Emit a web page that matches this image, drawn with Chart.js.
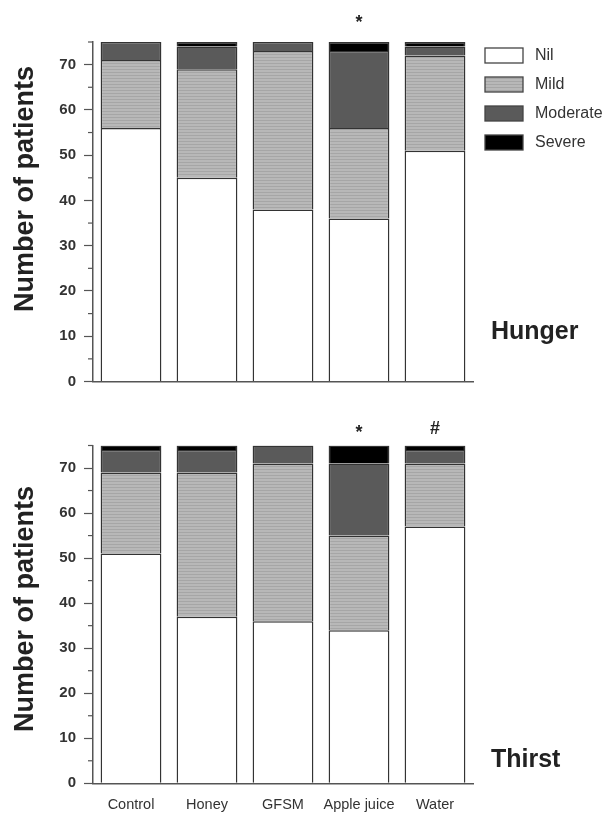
<!DOCTYPE html>
<html>
<head>
<meta charset="utf-8">
<script src="https://cdn.jsdelivr.net/npm/chart.js@4.4.1/dist/chart.umd.min.js"></script>
<style>
  body { margin: 0; background: #fff; }
  #top { position: absolute; left: 0; top: 0; width: 608px; height: 400px; }
  #bottom { position: absolute; left: 0; top: 400px; width: 608px; height: 416px; }
</style>
</head>
<body>
<div id="top"><canvas id="hunger"></canvas></div>
<div id="bottom"><canvas id="thirst"></canvas></div>
<script>
const groups = ["Control", "Honey", "GFSM", "Apple juice", "Water"];
const severities = ["Nil", "Mild", "Moderate", "Severe"];

const hungerNil      = [56, 45, 38, 36, 51];
const hungerMild     = [15, 24, 35, 20, 21];
const hungerModerate = [4, 5, 2, 17, 2];
const hungerSevere   = [0, 1, 0, 2, 1];
const hungerMarks    = ["", "", "", "*", ""];

const thirstNil      = [51, 37, 36, 34, 57];
const thirstMild     = [18, 32, 35, 21, 14];
const thirstModerate = [5, 5, 4, 16, 3];
const thirstSevere   = [1, 1, 0, 4, 1];
const thirstMarks    = ["", "", "", "*", "#"];

const yMax = 75;
const FONT = "'Liberation Sans', Arial, sans-serif";

// mild segments have a faint horizontal hatch
function stripes() {
    const c = document.createElement("canvas");
    c.width = 4;
    c.height = 3;
    const g = c.getContext("2d");
    g.fillStyle = "#b8b8b8";
    g.fillRect(0, 0, 4, 3);
    g.fillStyle = "#a6a6a6";
    g.fillRect(0, 0, 4, 1);
    return g.createPattern(c, "repeat");
}

const fills = ["#ffffff", stripes(), "#5a5a5a", "#000000"];

const extras = {
    id: "extras",
    afterDraw(chart, args, opts) {
        const { ctx, chartArea, scales } = chart;
        const x = scales.x, y = scales.y;
        ctx.save();

        // minor ticks every 5
        ctx.strokeStyle = "#555";
        ctx.lineWidth = 1.2;
        y.ticks.forEach(t => {
            if (t.value % 10 === 0) return;
            const py = y.getPixelForValue(t.value);
            ctx.beginPath();
            ctx.moveTo(chartArea.left - 5, py);
            ctx.lineTo(chartArea.left, py);
            ctx.stroke();
        });

        // y title
        ctx.fillStyle = "#222";
        ctx.font = "bold 27px " + FONT;
        ctx.textAlign = "center";
        ctx.textBaseline = "middle";
        ctx.save();
        ctx.translate(26, opts.titleY);
        ctx.rotate(-Math.PI / 2);
        ctx.fillText("Number of patients", 0, 0);
        ctx.restore();

        // significance marks
        const size = 18;
        ctx.font = "bold " + size + "px " + FONT;
        ctx.textBaseline = "alphabetic";
        opts.marks.forEach((m, i) => {
            if (!m) return;
            const cy = chartArea.top - opts.markGap;
            const shift = m === "*" ? 0.575 : 0.345;
            ctx.fillText(m, x.getPixelForValue(i), cy + shift * size);
        });

        // panel label
        ctx.font = "bold 25px " + FONT;
        ctx.textAlign = "left";
        ctx.fillText(opts.label, chartArea.right + 18, opts.labelY);

        // legend
        if (opts.legend) {
            ctx.font = "16px " + FONT;
            ctx.textBaseline = "middle";
            chart.data.datasets.forEach((ds, i) => {
                const bx = chartArea.right + 12;
                const by = chartArea.top + 6 + i * 29;
                ctx.fillStyle = ds.backgroundColor;
                ctx.fillRect(bx, by, 38, 15);
                ctx.strokeStyle = "#444";
                ctx.lineWidth = 1.3;
                ctx.strokeRect(bx, by, 38, 15);
                ctx.fillStyle = "#333";
                ctx.fillText(ds.label, bx + 50, by + 8);
            });
        }
        ctx.restore();
    }
};

function makeChart(id, series, opts) {
    const datasets = series.map((data, i) => ({
        label: severities[i],
        data,
        backgroundColor: fills[i],
        borderColor: "#333",
        borderWidth: 1.5,
        categoryPercentage: 0.8,
        barPercentage: 1
    }));

    return new Chart(document.getElementById(id), {
        type: "bar",
        data: { labels: groups, datasets },
        plugins: [extras],
        options: {
            responsive: true,
            maintainAspectRatio: false,
            animation: false,
            layout: { padding: { top: opts.top, right: 135, left: 0, bottom: 0 } },
            plugins: {
                legend: { display: false },
                tooltip: { enabled: false },
                extras: opts
            },
            scales: {
                x: {
                    stacked: true,
                    grid: { display: false, drawTicks: false },
                    border: { display: true, color: "#555", width: 1.5 },
                    ticks: {
                        display: opts.showX,
                        color: "#333",
                        padding: 13,
                        maxRotation: 0,
                        minRotation: 0,
                        autoSkip: false,
                        font: { family: FONT, size: 14.5 }
                    },
                    afterFit: s => { s.height = opts.xHeight; }
                },
                y: {
                    stacked: true,
                    min: 0,
                    max: yMax,
                    afterFit: s => { s.width = 93; },
                    grid: {
                        drawOnChartArea: false,
                        tickLength: 9,
                        tickWidth: 1.2,
                        tickColor: c => (c.tick && c.tick.value % 10 === 0) ? "#555" : "rgba(0,0,0,0)"
                    },
                    border: { display: true, color: "#555", width: 1.5 },
                    ticks: {
                        stepSize: 5,
                        padding: 8,
                        color: "#333",
                        font: { family: FONT, size: 15, weight: "bold" },
                        callback: v => v % 10 === 0 ? v : ""
                    }
                }
            }
        }
    });
}

makeChart("hunger", [hungerNil, hungerMild, hungerModerate, hungerSevere], {
    top: 42, xHeight: 18.5, showX: false, marks: hungerMarks, markGap: 24,
    label: "Hunger", labelY: 339, titleY: 189, legend: true
});

makeChart("thirst", [thirstNil, thirstMild, thirstModerate, thirstSevere], {
    top: 45.5, xHeight: 32.7, showX: true, marks: thirstMarks, markGap: 18,
    label: "Thirst", labelY: 367, titleY: 209, legend: false
});
</script>
</body>
</html>
